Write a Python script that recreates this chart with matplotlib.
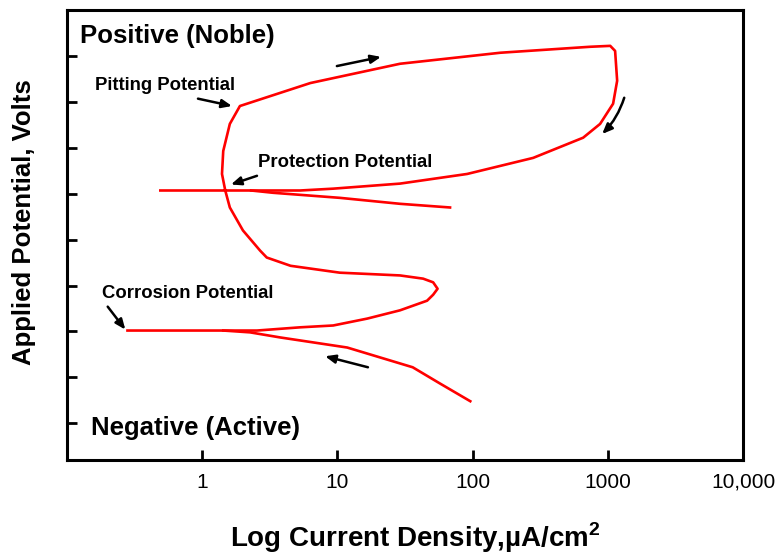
import matplotlib
matplotlib.use("Agg")
import matplotlib.pyplot as plt

plt.rcParams["font.family"] = ["Liberation Sans", "DejaVu Sans"]
plt.rcParams["mathtext.fontset"] = "custom"
plt.rcParams["mathtext.bf"] = "Liberation Sans:bold"
plt.rcParams["mathtext.rm"] = "Liberation Sans:bold"

# forward scan: corrosion potential -> active nose -> passive -> pitting -> reversal -> protection
fwd_current = [0.28, 1.43, 2.54, 5.3, 9.3, 16.6, 29, 46, 51, 55, 51, 43, 29, 10.4, 4.5,
               3.0, 2.68, 2.0, 1.6, 1.48, 1.40, 1.43, 1.6, 1.9,
               6.3, 29, 160, 738, 1040, 1130, 1170, 1092, 875, 656, 280, 91, 29, 9.3, 5.3, 0.49]
fwd_potential = [2.02, 2.02, 2.02, 2.09, 2.13, 2.28, 2.46, 2.67, 2.80, 2.93, 3.07, 3.15, 3.22, 3.28, 3.43,
                 3.61, 3.76, 4.2, 4.7, 5.07, 5.43, 5.93, 6.52, 6.91,
                 7.41, 7.83, 8.07, 8.2, 8.22, 8.11, 7.46, 6.96, 6.52, 6.22, 5.78, 5.43, 5.22, 5.11, 5.07, 5.07]

# branch below the protection potential
prot_current = [2.3, 3.34, 10.4, 29, 68]
prot_potential = [5.07, 5.02, 4.91, 4.78, 4.70]

# cathodic branch below the corrosion potential
cath_current = [1.43, 2.26, 3.76, 11.8, 36, 57, 96]
cath_potential = [2.02, 1.98, 1.87, 1.65, 1.22, 0.87, 0.48]

xticks = [1, 10, 100, 1000, 10000]
xtick_labels = ["1", "10", "100", "1000", "10,000"]
yticks = [0, 1, 2, 3, 4, 5, 6, 7, 8]

fig = plt.figure(figsize=(7.79, 5.58), dpi=100)
ax = fig.add_axes([0.086, 0.1756, 0.868, 0.8064])

red = "#ff0000"
ax.plot(fwd_current, fwd_potential, color=red, lw=1.9)
ax.plot(prot_current, prot_potential, color=red, lw=1.9)
ax.plot(cath_current, cath_potential, color=red, lw=1.9)

ax.set_xscale("log")
ax.set_xlim(0.1, 10000)
ax.set_ylim(-0.8, 9)
ax.set_xticks(xticks)
ax.set_xticklabels(xtick_labels)
ax.xaxis.set_minor_locator(matplotlib.ticker.NullLocator())
ax.set_yticks(yticks)
ax.set_yticklabels([])
ax.tick_params(direction="in", length=7.5, width=2.0, labelsize=15, pad=9,
               top=False, right=False)

for s in ax.spines.values():
    s.set_linewidth(2.2)

bold = dict(fontweight="bold", color="black")
ax.text(0.019, 0.927, "Positive (Noble)", transform=ax.transAxes, fontsize=18.5, va="baseline", **bold)
ax.text(0.0355, 0.0556, "Negative (Active)", transform=ax.transAxes, fontsize=18.5, va="baseline", **bold)
ax.text(0.161, 7.26, "Pitting Potential", fontsize=13.3, va="baseline", **bold)
ax.text(2.59, 5.59, "Protection Potential", fontsize=13.3, va="baseline", **bold)
ax.text(0.18, 2.72, "Corrosion Potential", fontsize=13.3, va="baseline", **bold)

arrow = dict(arrowstyle="-|>,head_length=0.6,head_width=0.25", color="black", lw=1.8,
             shrinkA=0, shrinkB=0)
ax.annotate("", xy=(1.66, 6.91), xytext=(0.93, 7.07), arrowprops=arrow)
ax.annotate("", xy=(1.63, 5.2), xytext=(2.54, 5.39), arrowprops=arrow)
ax.annotate("", xy=(0.27, 2.04), xytext=(0.20, 2.54), arrowprops=arrow)
ax.annotate("", xy=(21, 7.98), xytext=(9.9, 7.78), arrowprops=arrow)
ax.annotate("", xy=(906, 6.30), xytext=(1320, 7.09),
            arrowprops=dict(arrow, connectionstyle="arc3,rad=-0.12"))
ax.annotate("", xy=(8.1, 1.46), xytext=(16.8, 1.22), arrowprops=arrow)

fig.text(0.533, 0.019, r"Log Current Density,µA/cm$^\mathbf{2}$", fontsize=20,
         ha="center", va="baseline", **bold)
fig.text(0.031, 0.602, "Applied Potential, Volts", fontsize=18.5, rotation=90,
         ha="center", va="center", **bold)

fig.savefig("out.png", dpi=100)
